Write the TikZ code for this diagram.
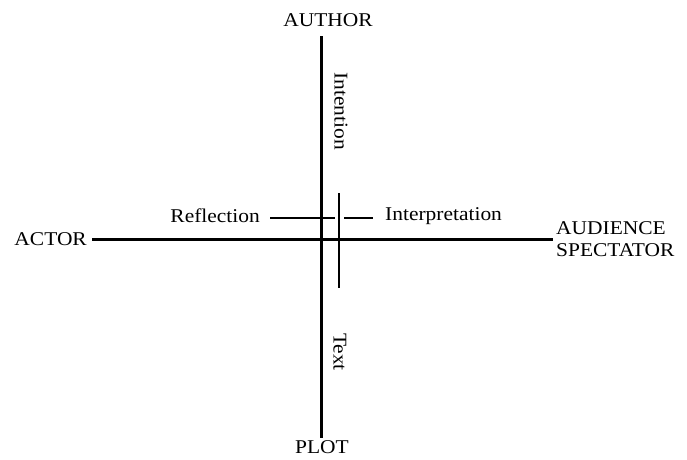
\documentclass[tikz,border=0pt]{standalone}
\usepackage{fontspec}
\setmainfont{Liberation Serif}[FakeStretch=1.1]
\begin{document}
\begin{tikzpicture}[x=1pt,y=-1pt,
  axis/.style={line width=3pt},
  thin/.style={line width=2.2pt},
  lbl/.style={font=\fontsize{19.5}{22}\selectfont, inner sep=0pt}]
\useasboundingbox (0,0) rectangle (687,459);
% coordinates
\coordinate (top) at (321,36);
\coordinate (bot) at (321,438);
\coordinate (lft) at (92,239);
\coordinate (rgt) at (553,239);
\coordinate (st) at (339,193);
\coordinate (sb) at (339,288);
\coordinate (ha) at (270,218);
\coordinate (hb) at (335,218);
\coordinate (hc) at (344,218);
\coordinate (hd) at (373,218);
% axes
\draw[axis] (top) -- (bot);
\draw[axis] (lft) -- (rgt);
\draw[thin] (st) -- (sb);
\draw[thin] (ha) -- (hb);
\draw[thin] (hc) -- (hd);
% labels
\node[lbl] (author) at (328,20) {AUTHOR};
\node[lbl] (plot) at (322,447) {PLOT};
\node[lbl,anchor=east] (actor) at (87,239) {ACTOR};
\node[lbl,anchor=west,align=left] (aud) at (556,239) {AUDIENCE\\SPECTATOR};
\node[lbl,anchor=east] (refl) at (260,216) {Reflection};
\node[lbl,anchor=west] (interp) at (385,216) {Interpretation};
\node[lbl,rotate=-90] (intent) at (341,111) {Intention};
\node[lbl,rotate=-90] (text) at (340,352) {Text};
\end{tikzpicture}
\end{document}
